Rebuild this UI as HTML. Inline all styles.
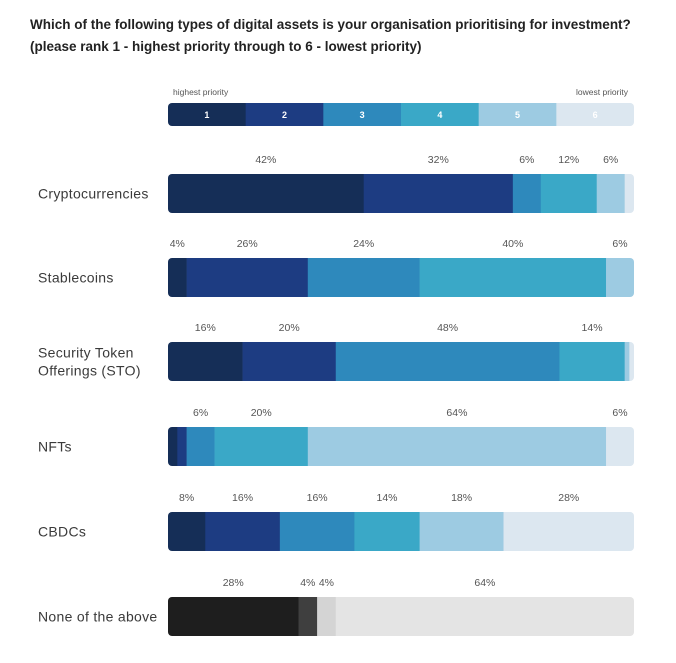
<!DOCTYPE html>
<html><head><meta charset="utf-8"><style>
body{margin:0;background:#fff;font-family:"Liberation Sans",sans-serif;}
#wrap{position:relative;width:676px;height:663px;overflow:hidden;}
.t{position:absolute;left:30px;font-weight:bold;font-size:13.5px;color:#222;}
</style></head><body><div id="wrap">
<div class="t" style="top:17px">Which of the following types of digital assets is your organisation prioritising for investment?</div>
<div class="t" style="top:39px">(please rank 1 - highest priority through to 6 - lowest priority)</div>
<svg id="svg" width="676" height="663" style="position:absolute;left:0;top:0"></svg>
</div>
<script>
const categories=["Cryptocurrencies","Stablecoins","Security Token|Offerings (STO)","NFTs","CBDCs","None of the above"];
const rank1=[42,4,16,2,8,28];
const rank2=[32,26,20,2,16,4];
const rank3=[6,24,48,6,16,4];
const rank4=[12,40,14,20,14,64];
const rank5=[6,6,1,64,18,0];
const rank6=[2,0,1,6,28,0];
const legendLabels=["1","2","3","4","5","6"];
const blue=["#152e57","#1d3c82","#2e89bc","#3aa8c7","#9dcbe2","#dce7f0"];
const grey=["#1e1e1e","#3f3f3f","#d4d4d4","#e4e4e4","#e4e4e4","#e4e4e4"];
const NS="http://www.w3.org/2000/svg";
const svg=document.getElementById('svg');
const X0=168,W=466;
const x=v=>X0+v/100*W;
function mk(t,a){const e=document.createElementNS(NS,t);for(const k in a)e.setAttribute(k,a[k]);svg.appendChild(e);return e;}
const defs=mk('defs',{});
const lt=mk('text',{x:173,y:95,'font-size':8.5,fill:'#555'});lt.textContent='highest priority';


const lt2=mk('text',{x:628,y:95,'font-size':8.5,fill:'#555','text-anchor':'end'});lt2.textContent='lowest priority';


const cpL=document.createElementNS(NS,'clipPath');cpL.setAttribute('id','cl');defs.appendChild(cpL);
const rl=document.createElementNS(NS,'rect');
[['x',X0],['y',103],['width',W],['height',23],['rx',4]].forEach(([k,v])=>rl.setAttribute(k,v));cpL.appendChild(rl);
const lg=mk('g',{'clip-path':'url(#cl)'});
legendLabels.forEach((l,i)=>{const w=W/6;
 const r=document.createElementNS(NS,'rect');
 r.setAttribute('x',X0+i*w);r.setAttribute('y',103);r.setAttribute('width',w+0.5);r.setAttribute('height',23);r.setAttribute('fill',blue[i]);
 
 
 lg.appendChild(r);
 const t=mk('text',{x:X0+i*w+w/2,y:118,'font-size':9,'font-weight':'bold',fill:'#fff','text-anchor':'middle'});t.textContent=l;
 
 
});
const series=[rank1,rank2,rank3,rank4,rank5,rank6];
const tops=[174,258,342,427,512,597];
categories.forEach((c,ci)=>{
 const y=tops[ci],h=39,cols=ci==5?grey:blue;
 const cp=document.createElementNS(NS,'clipPath');cp.setAttribute('id','c'+ci);defs.appendChild(cp);
 const rr=document.createElementNS(NS,'rect');
 [['x',X0],['y',y],['width',W],['height',h],['rx',4]].forEach(([k,v])=>rr.setAttribute(k,v));cp.appendChild(rr);
 const g=mk('g',{'clip-path':'url(#c'+ci+')'});
 
 
 let cum=0;
 series.forEach((s,si)=>{const v=s[ci];if(!v){return;}
  const r=document.createElementNS(NS,'rect');
  r.setAttribute('x',x(cum));r.setAttribute('y',y);r.setAttribute('width',x(cum+v)-x(cum)+0.3);r.setAttribute('height',h);r.setAttribute('fill',cols[si]);
  
  
  g.appendChild(r);
  if(v>=4){const t=mk('text',{x:(x(cum)+x(cum+v))/2,y:y-11,'font-size':10.5,fill:'#555','text-anchor':'middle'});t.textContent=v+'%';
   
   }
  cum+=v;});
 const lines=c.split('|');
 lines.forEach((ln,li)=>{const t=mk('text',{x:38,y:y+h/2+5+(li-(lines.length-1)/2)*18,'font-size':14,fill:'#3a3a3a','letter-spacing':'0.3'});t.textContent=ln;
  
  });
});
</script></body></html>
